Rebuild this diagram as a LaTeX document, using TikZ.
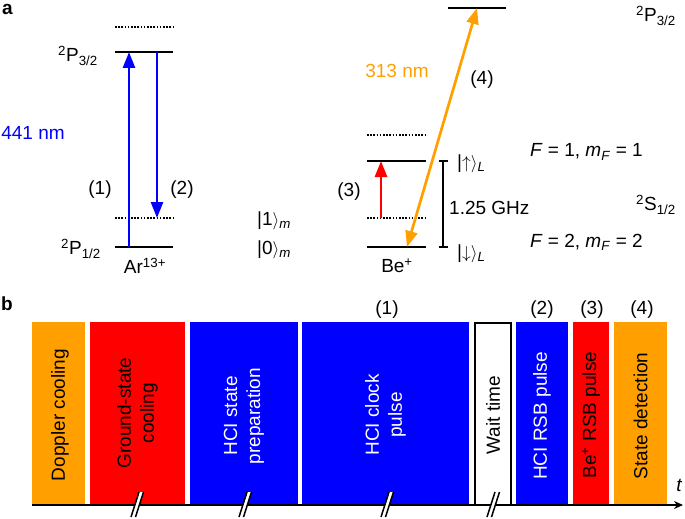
\documentclass[tikz,border=0pt]{standalone}
\usepackage{fontspec}
\setmainfont{Liberation Sans}
\usetikzlibrary{arrows.meta}
\definecolor{myorange}{RGB}{255,160,0}
\definecolor{myblue}{RGB}{0,0,255}
\definecolor{myred}{RGB}{255,0,0}
\newcommand{\ket}[2]{|#1$\rangle$\textsubscript{\itshape #2}}
\begin{document}
\begin{tikzpicture}[x=1pt,y=-1pt,
  every node/.style={font=\fontsize{19}{23}\selectfont, inner sep=0pt},
  level/.style={line width=2pt},
  virt/.style={line width=1.6pt, dash pattern=on 1.6pt off 1.6pt},
  trans/.style={line width=2.7pt, -{Triangle[width=12pt,length=16pt]}},
  dtrans/.style={line width=2.7pt, {Triangle[width=12pt,length=16pt]}-{Triangle[width=12pt,length=16pt]}},
  bartext/.style={rotate=90, align=center},
  brk/.style={line width=1.5pt},
]
\useasboundingbox (0,0) rectangle (685,519);

% ---------- panel a ----------
\node[font=\fontsize{19}{23}\selectfont\bfseries, anchor=north west] (la) at (2,4) {a};

% Ar13+ levels
\draw[virt]  (115,27) -- (173,27);
\draw[level] (115,52) -- (173,52);
\draw[virt]  (115,218) -- (173,218);
\draw[level] (115,247) -- (173,247);
\coordinate (arLow) at (129,247);
\coordinate (arUp) at (129,52);
\coordinate (arUp2) at (157,52);
\coordinate (arVirt) at (157,218);
\draw[trans, myblue] (arLow) -- (arUp);
\draw[trans, myblue] (arUp2) -- (arVirt);

\node[anchor=east] (p32a) at (98,56) {\textsuperscript{2}P\textsubscript{3/2}};
\node[anchor=east] (p12a) at (101,249) {\textsuperscript{2}P\textsubscript{1/2}};
\node (ar) at (145,266) {Ar\textsuperscript{13+}};
\node[myblue] (nm441) at (33,133) {441 nm};
\node (n1) at (100,190) {(1)};
\node (n2) at (182,190) {(2)};
\node[anchor=west] (k1) at (257,221) {\ket{1}{m}};
\node[anchor=west] (k0) at (257,250) {\ket{0}{m}};

% Be+ levels
\draw[level] (448,8) -- (506,8);
\draw[virt]  (367,135) -- (426,135);
\draw[level] (367,161) -- (426,161);
\draw[virt]  (367,218) -- (426,218);
\draw[level] (367,247) -- (426,247);
\coordinate (beVirt) at (381,218);
\coordinate (beUp) at (381,161);
\coordinate (beLow) at (407,247);
\coordinate (beP) at (477,8);
\draw[trans, myred] (beVirt) -- (beUp);
\draw[dtrans, myorange] (beLow) -- (beP);

% bracket
\coordinate (brT) at (443,161);
\coordinate (brB) at (443,247);
\draw[line width=1.5pt] (brT) -- (brB);
\draw[line width=1.5pt] (438.5,161) -- (447.5,161);
\draw[line width=1.5pt] (438.5,247) -- (447.5,247);

\node[myorange] (nm313) at (397,71) {313 nm};
\node (n4) at (482,80) {(4)};
\node (n3) at (349,192) {(3)};
\node (be) at (397,266) {Be\textsuperscript{+}};
\node[anchor=west] (kup) at (457,164) {|$\uparrow\rangle$\textsubscript{\itshape L}};
\node[anchor=west] (kdn) at (457,254) {|$\downarrow\rangle$\textsubscript{\itshape L}};
\node[anchor=west] (ghz) at (449,208) {1.25 GHz};
\node[anchor=west] (f1) at (530,152) {\textit{F} = 1, \textit{m}\textsubscript{\textit{F}} = 1};
\node[anchor=west] (f2) at (530,242) {\textit{F} = 2, \textit{m}\textsubscript{\textit{F}} = 2};
\node[anchor=west] (s12) at (636,205) {\textsuperscript{2}S\textsubscript{1/2}};
\node[anchor=west] (p32b) at (636,16) {\textsuperscript{2}P\textsubscript{3/2}};

% ---------- panel b ----------
\node[font=\fontsize{19}{23}\selectfont\bfseries, anchor=north west] (lb) at (1,297) {b};

\fill[myorange] (32,322) rectangle (85,505);
\fill[myred]    (90,322) rectangle (185,505);
\fill[myblue]   (190,322) rectangle (298,505);
\fill[myblue]   (302,322) rectangle (469,505);
\draw[line width=2pt, fill=white] (475,323) rectangle (511,505);
\fill[myblue]   (516,322) rectangle (568,505);
\fill[myred]    (573,322) rectangle (609,505);
\fill[myorange] (614,322) rectangle (667,505);

\node[bartext] (b1) at (60,415) {Doppler cooling};
\node[bartext] (b2) at (137.5,413) {Ground-state\\cooling};
\node[bartext, white] (b3) at (244,416) {HCI state\\preparation};
\node[bartext, white] (b4) at (385.5,415) {HCI clock\\pulse};
\node[bartext] (b5) at (493,415) {Wait time};
\node[bartext, white] (b6) at (542,416) {HCI RSB pulse};
\node[bartext] (b7) at (591,415) {Be\textsuperscript{+} RSB pulse};
\node[bartext] (b8) at (640.5,416) {State detection};

\node (q1) at (387,310) {(1)};
\node (q2) at (542,310) {(2)};
\node (q3) at (592,310) {(3)};
\node (q4) at (642,310) {(4)};

\coordinate (t0) at (32,505);
\coordinate (t1) at (683,505);
\draw[line width=2pt, -{Stealth[length=9pt,width=8pt]}] (t0) -- (t1);
\node[font=\fontsize{19}{23}\selectfont\itshape] (tl) at (679,485) {t};

% break marks
\foreach \bx in {137,245,387,493}{
  \fill[white] (\bx+2.5,492) -- (\bx+6.5,492) -- (\bx-1.5,517) -- (\bx-5.5,517) -- cycle;
  \draw[brk] (\bx+2,492) -- (\bx-6,517);
  \draw[brk] (\bx+6.5,492) -- (\bx-1.5,517);
}
\end{tikzpicture}
\end{document}
